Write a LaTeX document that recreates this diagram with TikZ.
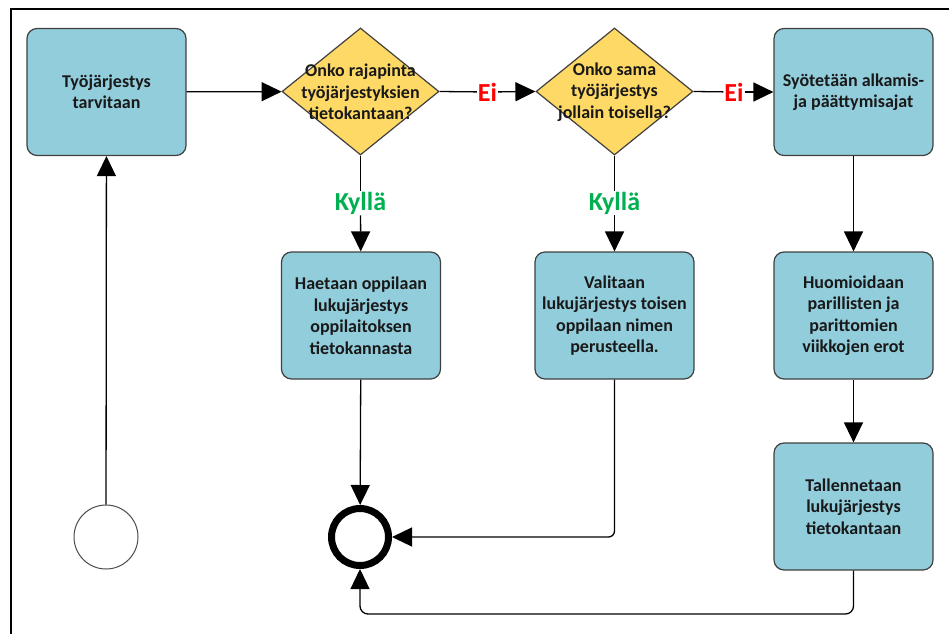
\documentclass[tikz,border=0pt]{standalone}
\usepackage{fontspec}
\setmainfont{Carlito}
\usetikzlibrary{arrows.meta,shapes.geometric}
\definecolor{boxblue}{RGB}{146,205,220}
\definecolor{decgold}{RGB}{255,217,102}
\definecolor{yesgreen}{RGB}{0,176,80}
\definecolor{nored}{RGB}{255,0,0}
\tikzset{
  txt/.style={font=\bfseries\fontsize{18}{21.5}\selectfont, align=center, text=black!90},
  stepbox/.style={txt, draw=black!75, line width=1.2pt, rounded corners=10pt,
    fill=boxblue, minimum width=159pt, minimum height=127pt, inner sep=0pt},
  decision/.style={diamond, draw=black!75, line width=1.2pt, fill=decgold,
    minimum width=157pt, minimum height=127pt, inner sep=0pt},
  answer/.style={font=\bfseries\fontsize{26}{29}\selectfont, inner sep=1pt},
  flow/.style={line width=1.3pt, -{Triangle[length=20pt,width=19pt]}},
  plain/.style={line width=1.3pt},
}
\begin{document}
\begin{tikzpicture}[x=1pt,y=-1pt]
\useasboundingbox (0,0) rectangle (949,634);
% page frame
\draw[line width=2pt] (11,634) -- (11,9) -- (949,9);

% top row
\node[stepbox] (need) at (106.5,92) {Työjärjestys\\tarvitaan};
\node[decision] (q1) at (360.5,91.5) {};
\node[txt] (q1t) at (360.5,92) {Onko rajapinta\\työjärjestyksien\\tietokantaan?};
\node[decision] (q2) at (614.5,91.5) {};
\node[txt] (q2t) at (614.5,92) {Onko sama\\työjärjestys\\jollain toisella?};
\node[stepbox] (enter) at (853.5,92) {Syötetään alkamis-\\ja päättymisajat};

% answers
\node[answer, text=nored] (no1) at (487.5,92) {Ei};
\node[answer, text=nored] (no2) at (734,92) {Ei};
\node[answer, text=yesgreen] (yes1) at (360.5,203) {Kyllä};
\node[answer, text=yesgreen] (yes2) at (614.5,203) {Kyllä};

% middle row
\node[stepbox] (fetch) at (361,315.5) {Haetaan oppilaan\\lukujärjestys\\oppilaitoksen\\tietokannasta};
\node[stepbox] (pick) at (614.5,315.5) {Valitaan\\lukujärjestys toisen\\oppilaan nimen\\perusteella.};
\node[stepbox] (weeks) at (853.5,315.5) {Huomioidaan\\parillisten ja\\parittomien\\viikkojen erot};
\node[stepbox] (save) at (853.5,506.5) {Tallennetaan\\lukujärjestys\\tietokantaan};

% events
\node[circle, draw=black!70, line width=1pt, minimum size=64pt, inner sep=0pt] (start) at (106,537) {};
\node[circle, draw=black, line width=7pt, minimum size=57pt, inner sep=0pt] (end) at (360,537) {};
\coordinate (loop) at (360,614);

% connectors
\draw[flow] (start) -- (need);
\draw[flow] (need) -- (q1);
\draw[plain] (q1.east) -- (no1);
\draw[flow] (no1) -- (q2.west);
\draw[plain] (q2.east) -- (no2);
\draw[flow] (no2) -- (enter);
\draw[plain] (q1.south) -- (yes1);
\draw[flow] (yes1) -- (fetch);
\draw[plain] (q2.south) -- (yes2);
\draw[flow] (yes2) -- (pick);
\draw[flow] (enter) -- (weeks);
\draw[flow] (weeks) -- (save);
\draw[flow] (fetch) -- (end);
\draw[flow, rounded corners=6pt] (pick.south) |- (end.east);
\draw[flow, rounded corners=8pt] (save.south) |- (loop) -- (end.south);
\end{tikzpicture}
\end{document}
